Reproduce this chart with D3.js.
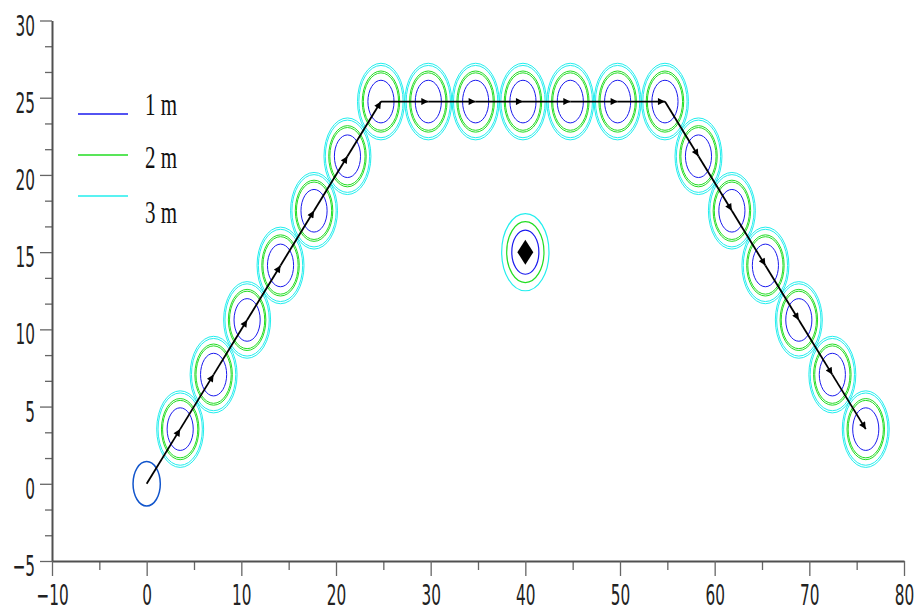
<!DOCTYPE html>
<html>
<head>
<meta charset="utf-8">
<script src="https://cdn.jsdelivr.net/npm/d3@7"></script>
<style>
  html, body { margin: 0; padding: 0; background: #fff; }
  svg { display: block; }
</style>
</head>
<body>
<svg id="chart" width="916" height="611"></svg>
<script>
// ---- data ----
const nodeX = [0, 3.54, 7.07, 10.61, 14.14, 17.68, 21.21, 24.75, 29.75, 34.75, 39.75, 44.75, 49.75, 54.75, 58.29, 61.82, 65.36, 68.89, 72.43, 75.96];
const nodeY = [0, 3.54, 7.07, 10.61, 14.14, 17.68, 21.21, 24.75, 24.75, 24.75, 24.75, 24.75, 24.75, 24.75, 21.21, 17.68, 14.14, 10.61, 7.07, 3.54];
const targetX = [40];
const targetY = [15];
const ringLabels = ["1 m", "2 m", "3 m"];
const ringColors = ["#1a1aee", "#22dd22", "#22eeee"];
const nodeRingRadii = [[1.38], [1.86, 1.98], [2.34, 2.48]];
const targetRingRadii = [1.43, 1.97, 2.5];
const startRadius = 1.44;
const xTicks = [-10, 0, 10, 20, 30, 40, 50, 60, 70, 80];
const yTicks = [-5, 0, 5, 10, 15, 20, 25, 30];

const svg = d3.select("#chart");
const x = d3.scaleLinear().domain([-10, 80]).range([52, 904]);
const y = d3.scaleLinear().domain([-5, 30]).range([561, 20.5]);
const sx = x(1) - x(0), sy = y(0) - y(1);

const TSCALE = 1.65;
// ---- axes ----
const minorY = d3.range(-5, 30.01, 5 / 3).filter(v => Math.abs(v / 5 - Math.round(v / 5)) > 1e-6);
const minorX = d3.range(-5, 80, 10);

svg.append("g").attr("transform", `translate(${x(-10)},0)`)
  .call(d3.axisLeft(y).tickValues(minorY).tickSize(7).tickFormat(""))
  .call(g => g.select(".domain").remove())
  .call(g => g.selectAll("line").attr("stroke", "#666").attr("stroke-width", 1.3));
svg.append("g").attr("transform", `translate(0,${y(-5)})`)
  .call(d3.axisBottom(x).tickValues(minorX).tickSize(9).tickFormat(""))
  .call(g => g.select(".domain").remove())
  .call(g => g.selectAll("line").attr("stroke", "#666").attr("stroke-width", 1.3));

const yAxis = svg.append("g").attr("transform", `translate(${x(-10)},0)`)
  .call(d3.axisLeft(y).tickValues(yTicks).tickSize(12).tickSizeOuter(0).tickPadding(5).tickFormat(d3.format("d")));
const xAxis = svg.append("g").attr("transform", `translate(0,${y(-5)})`)
  .call(d3.axisBottom(x).tickValues(xTicks).tickSize(15).tickSizeOuter(0).tickFormat(d3.format("d")));

[yAxis, xAxis].forEach(a => {
  a.select(".domain").attr("stroke", "#505050").attr("stroke-width", 2);
  a.selectAll(".tick line").attr("stroke", "#666").attr("stroke-width", 1.3);
  a.selectAll(".tick text")
    .attr("fill", "#222")
    .style("font-family", "'DejaVu Sans Condensed', 'DejaVu Sans', sans-serif")
    .style("font-size", "17px");
});
yAxis.selectAll(".tick text")
  .attr("dy", null).attr("y", null).attr("x", null)
  .attr("transform", `translate(-17,${14.5}) scale(1,${TSCALE})`);
xAxis.selectAll(".tick text")
  .attr("dy", null).attr("y", null)
  .attr("transform", `translate(0,${44}) scale(1,${TSCALE})`);

// ---- rings ----
const rings = svg.append("g").attr("fill", "none");
nodeX.forEach((nx, i) => {
  if (i === 0) {
    rings.append("ellipse")
      .attr("cx", x(nx)).attr("cy", y(nodeY[i]))
      .attr("rx", startRadius * sx).attr("ry", startRadius * sy)
      .attr("stroke", "#1155cc").attr("stroke-width", 1.5);
    return;
  }
  nodeRingRadii.forEach((rs, k) => {
    rs.forEach(r => {
      rings.append("ellipse")
        .attr("cx", x(nx)).attr("cy", y(nodeY[i]))
        .attr("rx", r * sx).attr("ry", r * sy)
        .attr("stroke", ringColors[k]).attr("stroke-width", 1.0);
    });
  });
});
targetX.forEach((tx, i) => {
  targetRingRadii.forEach((r, k) => {
    rings.append("ellipse")
      .attr("cx", x(tx)).attr("cy", y(targetY[i]))
      .attr("rx", r * sx).attr("ry", r * sy)
      .attr("stroke", ringColors[k]).attr("stroke-width", 1.2);
  });
});

// ---- path with arrows ----
const defs = svg.append("defs");
defs.append("marker").attr("id", "arr")
  .attr("viewBox", "0 0 10 10").attr("refX", 10).attr("refY", 5)
  .attr("markerUnits", "userSpaceOnUse")
  .attr("markerWidth", 9).attr("markerHeight", 7).attr("orient", "auto")
  .append("path").attr("d", "M0,0 L10,5 L0,10 Z").attr("fill", "#000");

const paths = svg.append("g");
for (let i = 1; i < nodeX.length; i++) {
  paths.append("line")
    .attr("x1", x(nodeX[i - 1])).attr("y1", y(nodeY[i - 1]))
    .attr("x2", x(nodeX[i])).attr("y2", y(nodeY[i]))
    .attr("stroke", "#000").attr("stroke-width", 1.8)
    .attr("marker-end", "url(#arr)");
}

// ---- target diamond ----
targetX.forEach((tx, i) => {
  const cx = x(tx), cy = y(targetY[i]);
  svg.append("path")
    .attr("d", `M${cx},${cy - 12.5} L${cx + 8},${cy} L${cx},${cy + 12.5} L${cx - 8},${cy} Z`)
    .attr("fill", "#000");
});

// ---- legend ----
const legendLineY = [114, 155, 196];
const legendTextY = [115, 168, 223];
const legend = svg.append("g");
ringLabels.forEach((lab, k) => {
  legend.append("line")
    .attr("x1", 78).attr("x2", 128).attr("y1", legendLineY[k]).attr("y2", legendLineY[k])
    .attr("stroke", ringColors[k]).attr("stroke-width", 1.6);
  legend.append("text")
    .attr("transform", `translate(145,${legendTextY[k]}) scale(1,1.5)`)
    .style("font-family", "'Liberation Serif', 'Times New Roman', serif")
    .style("font-size", "21px")
    .attr("fill", "#111")
    .text(lab);
});
</script>
</body>
</html>
